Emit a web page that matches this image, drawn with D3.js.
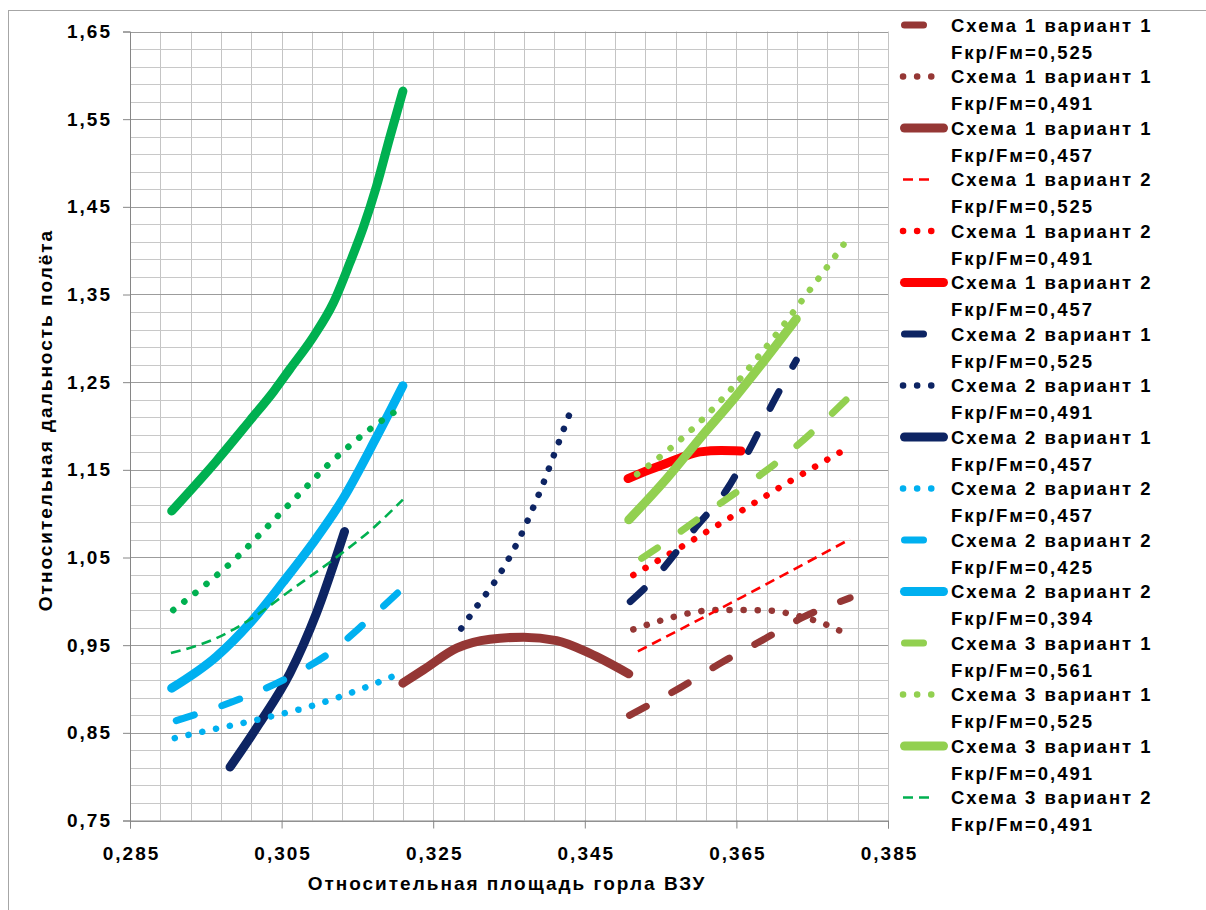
<!DOCTYPE html>
<html>
<head>
<meta charset="utf-8">
<script src="https://cdn.jsdelivr.net/npm/d3@7/dist/d3.min.js"></script>
<style>
  body { margin: 0; background: #fff; }
  svg text { font-family: "Liberation Sans", Arial, sans-serif; font-weight: bold; fill: #000; letter-spacing: 2px; }
</style>
</head>
<body>
<div id="chart"></div>
<script>
// tick labels
const xTickValues = [0.285, 0.305, 0.325, 0.345, 0.365, 0.385];
const yTickValues = [0.75, 0.85, 0.95, 1.05, 1.15, 1.25, 1.35, 1.45, 1.55, 1.65];

// series data, [x, y] pairs
const s1v1_525 = [[0.3509, 0.870], [0.3575, 0.901], [0.3630, 0.930], [0.3685, 0.956], [0.3736, 0.981], [0.3800, 1.004]];
const s1v1_491 = [[0.3514, 0.968], [0.3550, 0.978], [0.3585, 0.986], [0.3621, 0.990], [0.3659, 0.990], [0.3695, 0.9894], [0.3730, 0.9837], [0.3766, 0.9743], [0.3799, 0.961]];
const s1v1_457 = [[0.3210, 0.9067], [0.3237, 0.9218], [0.3281, 0.9466], [0.3325, 0.9568], [0.3369, 0.9591], [0.3413, 0.9552], [0.3456, 0.9409], [0.3508, 0.9173]];
const s1v2_525 = [[0.3520, 0.943], [0.3660, 1.006], [0.3800, 1.071]];
const s1v2_491 = [[0.3514, 1.030], [0.3579, 1.063], [0.3657, 1.1035], [0.3720, 1.1366], [0.3800, 1.1765]];
const s1v2_457 = [[0.3507, 1.140], [0.3535, 1.150], [0.3558, 1.1575], [0.3580, 1.165], [0.3602, 1.1705], [0.3630, 1.172], [0.3656, 1.1716]];
const s2v1_525 = [[0.3510, 0.9997], [0.3540, 1.0245], [0.3597, 1.0852], [0.3637, 1.127], [0.3667, 1.1727], [0.3698, 1.226], [0.3729, 1.275]];
const s2v1_491 = [[0.3287, 0.969], [0.3308, 0.9948], [0.3330, 1.0207], [0.3349, 1.0476], [0.3366, 1.0758], [0.3381, 1.105], [0.3395, 1.134], [0.3408, 1.164], [0.3421, 1.1936], [0.3434, 1.2232]];
const s2v1_457 = [[0.2982, 0.811], [0.3021, 0.861], [0.3061, 0.918], [0.3096, 0.9865], [0.3133, 1.0795]];
const s2v2_457 = [[0.2909, 0.844], [0.2947, 0.8515], [0.3017, 0.8648], [0.3087, 0.880], [0.3122, 0.8896], [0.3158, 0.901], [0.3193, 0.913], [0.3210, 0.9192]];
const s2v2_425 = [[0.2911, 0.864], [0.2986, 0.8857], [0.3061, 0.9142], [0.3114, 0.9416], [0.3162, 0.9769], [0.3211, 1.016]];
const s2v2_394 = [[0.2905, 0.901], [0.2964, 0.937], [0.3008, 0.975], [0.3052, 1.022], [0.3090, 1.065], [0.3131, 1.117], [0.3175, 1.187], [0.3210, 1.246]];
const s3v1_561 = [[0.3525, 1.049], [0.3551, 1.064], [0.3601, 1.095], [0.3659, 1.130], [0.3707, 1.161], [0.3755, 1.197], [0.3801, 1.235]];
const s3v1_525 = [[0.3519, 1.145], [0.3563, 1.1746], [0.3604, 1.2066], [0.3642, 1.241], [0.3678, 1.278], [0.3712, 1.315], [0.3745, 1.353], [0.3778, 1.391], [0.3800, 1.4175]];
const s3v1_491 = [[0.3508, 1.093], [0.3558, 1.140], [0.3602, 1.186], [0.3649, 1.2335], [0.3689, 1.277], [0.3729, 1.322]];
const s3v2_491 = [[0.2904, 0.941], [0.2964, 0.958], [0.3008, 0.979], [0.3061, 1.012], [0.3122, 1.050], [0.3170, 1.083], [0.3210, 1.116]];
const s3v2_457 = [[0.2907, 0.990], [0.2951, 1.020], [0.2992, 1.051], [0.3031, 1.085], [0.3057, 1.108], [0.3082, 1.130], [0.3108, 1.153], [0.3136, 1.1747], [0.3164, 1.1947], [0.3210, 1.222]];
const s3v2_425 = [[0.2905, 1.103], [0.2964, 1.160], [0.3008, 1.206], [0.3040, 1.240], [0.3061, 1.265], [0.3092, 1.302], [0.3118, 1.340], [0.3140, 1.386], [0.3158, 1.427], [0.3175, 1.473], [0.3193, 1.530], [0.3210, 1.582]];

const seriesNames = [
  'Схема 1 вариант 1', 'Схема 1 вариант 1', 'Схема 1 вариант 1',
  'Схема 1 вариант 2', 'Схема 1 вариант 2', 'Схема 1 вариант 2',
  'Схема 2 вариант 1', 'Схема 2 вариант 1', 'Схема 2 вариант 1',
  'Схема 2 вариант 2', 'Схема 2 вариант 2', 'Схема 2 вариант 2',
  'Схема 3 вариант 1', 'Схема 3 вариант 1', 'Схема 3 вариант 1',
  'Схема 3 вариант 2', 'Схема 3 вариант 2', 'Схема 3 вариант 2'
];
const seriesFkr = ['0,525', '0,491', '0,457', '0,525', '0,491', '0,457', '0,525', '0,491', '0,457',
  '0,457', '0,425', '0,394', '0,561', '0,525', '0,491', '0,491', '0,457', '0,425'];
const seriesData = [s1v1_525, s1v1_491, s1v1_457, s1v2_525, s1v2_491, s1v2_457, s2v1_525, s2v1_491, s2v1_457,
  s2v2_457, s2v2_425, s2v2_394, s3v1_561, s3v1_525, s3v1_491, s3v2_491, s3v2_457, s3v2_425];

// look of each series
const brown = '#953735', red = '#ff0000', navy = '#0d2463', sky = '#00b0f0', lime = '#92d050', green = '#00b050';
const seriesColors = [brown, brown, brown, red, red, red, navy, navy, navy, sky, sky, sky, lime, lime, lime, green, green, green];
const seriesKinds = ['dash', 'dot', 'solid', 'thin', 'dot', 'solid', 'dash', 'dot', 'solid',
  'dot', 'dash', 'solid', 'dash', 'dot', 'solid', 'thin', 'dot', 'solid'];
const kindStyle = {
  dash:  { w: 7,   dash: '19,29',  cap: 'round', len: 21 },
  dot:   { w: 6.5, dash: '0.1,14', cap: 'round', len: 29 },
  solid: { w: 9,   dash: null,     cap: 'round', len: 39 },
  thin:  { w: 2.6, dash: '10,6',   cap: 'butt',  len: 27 }
};
const legendCount = 16; // the rest does not fit in the frame

const W = 1206, H = 910;
const plot = { left: 130, right: 888, top: 31.5, bottom: 820.5 };

const svg = d3.select('#chart').append('svg')
  .attr('width', W).attr('height', H);

svg.append('rect')
  .attr('x', 8.5).attr('y', 10.5).attr('width', 1400).attr('height', 1200)
  .attr('fill', 'none').attr('stroke', '#a6a6a6');

const x = d3.scaleLinear().domain([0.285, 0.385]).range([plot.left, plot.right]);
const y = d3.scaleLinear().domain([0.75, 1.65]).range([plot.bottom, plot.top]);

const ru = d3.formatLocale({ decimal: ',', thousands: ' ', grouping: [3], currency: ['', ''] });
const fx = ru.format('.3f'), fy = ru.format('.2f');

// grid
const grid = svg.append('g');
const xMinor = d3.range(26).map(i => 0.285 + i * 0.004);
const yMinor = d3.range(46).map(i => 0.75 + i * 0.02);
grid.selectAll('line.vx').data(xMinor).enter().append('line')
  .attr('x1', d => Math.round(x(d)) + 0.5).attr('x2', d => Math.round(x(d)) + 0.5)
  .attr('y1', plot.top).attr('y2', plot.bottom)
  .attr('stroke', '#c4c4c4');
grid.selectAll('line.hy').data(yMinor).enter().append('line')
  .attr('y1', d => Math.round(y(d)) + 0.5).attr('y2', d => Math.round(y(d)) + 0.5)
  .attr('x1', plot.left).attr('x2', plot.right)
  .attr('stroke', '#c8c8c8');
grid.selectAll('line.hmaj').data(yTickValues).enter().append('line')
  .attr('y1', d => Math.round(y(d)) + 0.5).attr('y2', d => Math.round(y(d)) + 0.5)
  .attr('x1', plot.left).attr('x2', plot.right)
  .attr('stroke', '#9c9c9c');

// axes
const xAxis = d3.axisBottom(x).tickValues(xTickValues).tickFormat(fx).tickSize(8).tickPadding(14);
const yAxis = d3.axisLeft(y).tickValues(yTickValues).tickFormat(fy).tickSize(7).tickPadding(13);
const gx = svg.append('g').attr('transform', `translate(0,${plot.bottom})`).call(xAxis);
const gy = svg.append('g').attr('transform', `translate(${plot.left},0)`).call(yAxis);
[gx, gy].forEach(g => {
  g.select('.domain').attr('stroke', '#868686');
  g.selectAll('.tick line').attr('stroke', '#868686');
  g.selectAll('.tick text').attr('font-size', 19).attr('font-family', null).style('fill', '#000');
});
gx.selectAll('.tick text').attr('dx', 1).attr('dy', '0.9em');
gy.selectAll('.tick text').attr('dx', 2);

svg.append('text')
  .attr('x', (plot.left + plot.right) / 2 - 2).attr('y', 890)
  .attr('text-anchor', 'middle').attr('font-size', 19)
  .text('Относительная площадь горла ВЗУ');
svg.append('text')
  .attr('transform', `translate(52,${(plot.top + plot.bottom) / 2 - 6}) rotate(-90)`)
  .attr('text-anchor', 'middle').attr('font-size', 19)
  .text('Относительная дальность полёта');

// lines
const line = d3.line().x(d => x(d[0])).y(d => y(d[1])).curve(d3.curveMonotoneX);
const lines = svg.append('g');
seriesData.forEach((data, i) => {
  const st = kindStyle[seriesKinds[i]];
  lines.append('path')
    .attr('d', line(data))
    .attr('fill', 'none')
    .attr('stroke', seriesColors[i])
    .attr('stroke-width', st.w)
    .attr('stroke-linecap', st.cap)
    .attr('stroke-linejoin', 'round')
    .attr('stroke-dasharray', st.dash);
});

// legend
const leg = svg.append('g');
d3.range(legendCount).forEach(i => {
  const st = kindStyle[seriesKinds[i]];
  const cy = 25 + i * 51.5;
  const x0 = seriesKinds[i] === 'dot' ? 903 : (seriesKinds[i] === 'thin' ? 903 : 904.5);
  leg.append('line')
    .attr('x1', x0).attr('x2', x0 + st.len)
    .attr('y1', cy).attr('y2', cy)
    .attr('stroke', seriesColors[i])
    .attr('stroke-width', st.w)
    .attr('stroke-linecap', st.cap)
    .attr('stroke-dasharray', st.dash);
  leg.append('text').attr('x', 951).attr('y', cy + 6.5).attr('font-size', 18.5).text(seriesNames[i]);
  leg.append('text').attr('x', 951).attr('y', cy + 33.5).attr('font-size', 18.5).text('Fкр/Fм=' + seriesFkr[i]);
});
</script>
</body>
</html>
